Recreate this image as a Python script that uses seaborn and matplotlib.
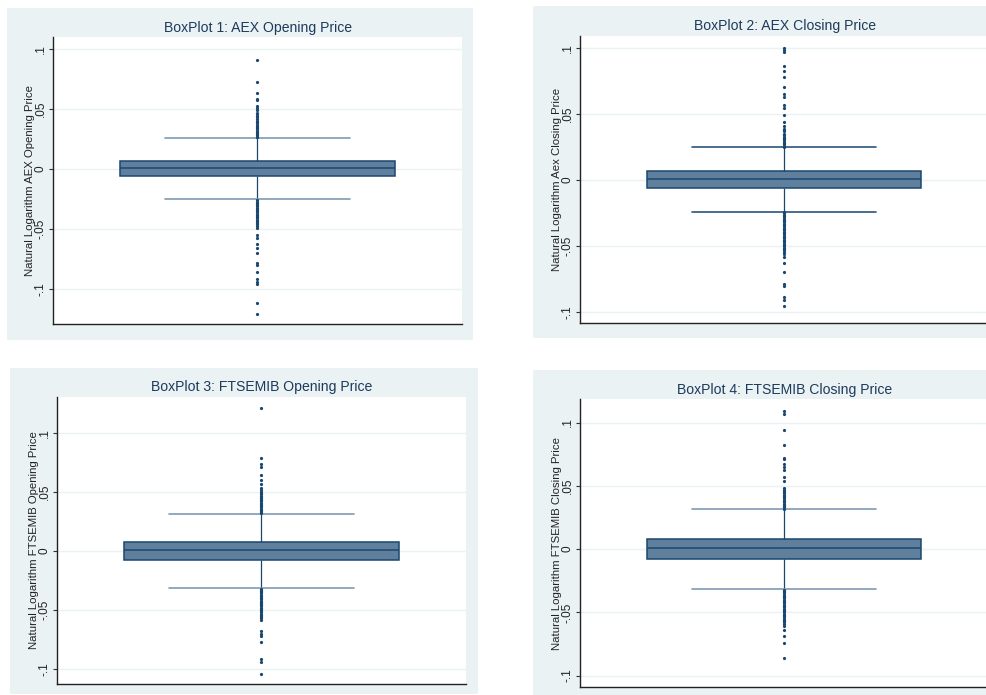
import matplotlib
matplotlib.use("Agg")
import matplotlib.pyplot as plt
import seaborn as sns
from matplotlib.patches import Rectangle

# box summaries: lower whisker, q1, median, q3, upper whisker
aex_open_box = [-0.025, -0.0058, 0.0006, 0.0064, 0.0256]
aex_close_box = [-0.0237, -0.0058, 0.0005, 0.0066, 0.025]
ftse_open_box = [-0.0314, -0.0079, 0.0006, 0.0079, 0.0314]
ftse_close_box = [-0.0316, -0.0079, 0.0005, 0.0082, 0.0316]

# outside values
aex_open_out = [0.0906, 0.0722, 0.0636, 0.0586, 0.0575, 0.0525, 0.0505, 0.049, 0.047,
                0.046, 0.044, 0.043, 0.042, 0.040, 0.039, 0.038, 0.037, 0.036, 0.035,
                0.034, 0.033, 0.032, 0.031, 0.030, 0.029, 0.028, 0.027, 0.0265,
                -0.026, -0.027, -0.028, -0.029, -0.030, -0.031, -0.032, -0.033, -0.034,
                -0.035, -0.036, -0.037, -0.038, -0.039, -0.040, -0.041, -0.042, -0.043,
                -0.044, -0.045, -0.046, -0.047, -0.049, -0.055, -0.057, -0.0625, -0.066,
                -0.0697, -0.0778, -0.080, -0.086, -0.0917, -0.094, -0.096, -0.1114, -0.1203]
aex_close_out = [0.0997, 0.0985, 0.0972, 0.0866, 0.0826, 0.0783, 0.0702, 0.0649, 0.0631,
                 0.0571, 0.0548, 0.0492, 0.0437, 0.041, 0.039, 0.038, 0.037, 0.035, 0.034,
                 0.033, 0.032, 0.031, 0.030, 0.029, 0.028, 0.027, 0.026, 0.0253,
                 -0.0242, -0.025, -0.026, -0.027, -0.028, -0.029, -0.030, -0.031, -0.032,
                 -0.033, -0.034, -0.035, -0.036, -0.037, -0.038, -0.039, -0.040, -0.041,
                 -0.042, -0.043, -0.044, -0.045, -0.046, -0.047, -0.048, -0.049, -0.050,
                 -0.051, -0.052, -0.053, -0.054, -0.0556, -0.058, -0.063, -0.0694, -0.0788,
                 -0.080, -0.0884, -0.0904, -0.0955]
ftse_open_out = [0.1212, 0.0785, 0.0739, 0.0711, 0.0646, 0.0603, 0.0569, 0.0538, 0.0518,
                 0.0504, 0.049, 0.048, 0.047, 0.046, 0.045, 0.044, 0.043, 0.042, 0.041,
                 0.040, 0.039, 0.038, 0.037, 0.036, 0.035, 0.034, 0.033, 0.032,
                 -0.032, -0.033, -0.034, -0.035, -0.036, -0.037, -0.038, -0.039, -0.040,
                 -0.041, -0.042, -0.043, -0.044, -0.045, -0.046, -0.047, -0.048, -0.049,
                 -0.050, -0.051, -0.052, -0.053, -0.054, -0.055, -0.056, -0.057, -0.0586,
                 -0.0677, -0.070, -0.0717, -0.0768, -0.0912, -0.094, -0.104]
ftse_close_out = [0.109, 0.1071, 0.094, 0.0826, 0.0721, 0.0708, 0.0671, 0.065, 0.0624,
                  0.0571, 0.0539, 0.0484, 0.047, 0.046, 0.045, 0.044, 0.043, 0.042,
                  0.041, 0.040, 0.039, 0.038, 0.037, 0.036, 0.035, 0.034, 0.033, 0.032,
                  -0.032, -0.033, -0.034, -0.035, -0.036, -0.037, -0.038, -0.039, -0.040,
                  -0.041, -0.042, -0.043, -0.044, -0.045, -0.046, -0.047, -0.048, -0.049,
                  -0.050, -0.051, -0.052, -0.053, -0.054, -0.055, -0.056, -0.057, -0.058,
                  -0.059, -0.061, -0.064, -0.0687, -0.074, -0.0858]

titles = ["BoxPlot 1: AEX Opening Price", "BoxPlot 2: AEX Closing Price",
          "BoxPlot 3: FTSEMIB Opening Price", "BoxPlot 4: FTSEMIB Closing Price"]
ylabels = ["Natural Logarithm AEX Opening Price", "Natural Logarithm Aex Closing Price",
           "Natural Logarithm FTSEMIB Opening Price", "Natural Logarithm FTSEMIB Closing Price"]
tick_vals = [-0.1, -0.05, 0, 0.05, 0.1]
tick_labels = ["-.1", "-.05", "0", ".05", ".1"]

W, H = 987, 695
NAVY = "#1a476f"
FILL = "#5f7f9c"
BG = "#eaf2f3"

sns.set_theme(style="white")
plt.rcParams["font.family"] = ["Liberation Sans", "DejaVu Sans"]

fig = plt.figure(figsize=(W / 100, H / 100), dpi=100)
fig.patch.set_facecolor("white")


def px_rect(x0, y0, x1, y1):
    # pixel box (top-left origin) -> figure fraction
    return [x0 / W, 1 - y1 / H, (x1 - x0) / W, (y1 - y0) / H]


# panel: background box, plot box, y-limits, title y, cap colour
panels = [
    dict(bg=(7, 8, 473, 340), ax=(53, 37, 462, 324), ylim=(-0.129, 0.110), ty=28,
         cap="#7f99b3", box=aex_open_box, out=aex_open_out),
    dict(bg=(533, 6, 990, 338), ax=(580, 36, 988, 323), ylim=(-0.108, 0.109), ty=26,
         cap="#2c5478", box=aex_close_box, out=aex_close_out),
    dict(bg=(10, 368, 478, 694), ax=(57, 397, 466, 684), ylim=(-0.1127, 0.1305), ty=387,
         cap="#7f99b3", box=ftse_open_box, out=ftse_open_out),
    dict(bg=(533, 370, 990, 697), ax=(580, 399, 988, 687), ylim=(-0.109, 0.1186), ty=390,
         cap="#7f99b3", box=ftse_close_box, out=ftse_close_out),
]

for i, p in enumerate(panels):
    x0, y0, x1, y1 = p["bg"]
    fig.patches.append(Rectangle((x0 / W, 1 - y1 / H), (x1 - x0) / W, (y1 - y0) / H,
                                 transform=fig.transFigure, facecolor=BG,
                                 edgecolor="none", zorder=-5))
    ax = fig.add_axes(px_rect(*p["ax"]))
    ax.set_zorder(2)
    ax.set_facecolor("white")

    sns.boxplot(y=p["box"], whis=(0, 100), showfliers=False, width=0.67,
                color=FILL, saturation=1, linecolor=NAVY, linewidth=1.1, ax=ax)
    sns.stripplot(y=p["out"], jitter=False, color=NAVY, size=2.3, linewidth=0,
                  ax=ax, zorder=4)

    # whisker caps are wide and lighter, like Stata
    lo, hi = p["box"][0], p["box"][-1]
    for ln in ax.lines:
        yd = list(ln.get_ydata())
        if len(yd) == 2 and yd[0] == yd[1] and yd[0] in (lo, hi):
            ln.set_xdata([-0.225, 0.225])
            ln.set_color(p["cap"])
            ln.set_linewidth(1.2)
        elif len(yd) == 2 and yd[0] != yd[1]:
            ln.set_linewidth(0.9)

    ax.set_xlim(-0.5, 0.5)
    ax.set_ylim(*p["ylim"])
    ax.set_xticks([])
    ax.set_yticks(tick_vals)
    ax.set_yticklabels(tick_labels, rotation=90, va="center", fontsize=8.5)
    ax.tick_params(axis="y", length=3, width=0.8, color="#333333", pad=1.5,
                   left=True, labelcolor="#222222")
    for t in tick_vals:
        ax.axhline(t, color=BG, linewidth=1.0, zorder=0)
    for s in ["top", "right"]:
        ax.spines[s].set_visible(False)
    for s in ["left", "bottom"]:
        ax.spines[s].set_color("#222222")
        ax.spines[s].set_linewidth(1.0)
    ax.set_ylabel(ylabels[i], fontsize=8.2, color="#222222", labelpad=0)
    ax.set_xlabel("")

    cx = (p["ax"][0] + p["ax"][2]) / 2
    if i in (1, 3):
        cx = (p["bg"][0] + 987) / 2 + 25
    fig.text(cx / W, 1 - p["ty"] / H, titles[i], ha="center", va="center",
             fontsize=10.1, color="#1e3a5c", zorder=3)

fig.savefig("out.png", dpi=100, facecolor="white")
